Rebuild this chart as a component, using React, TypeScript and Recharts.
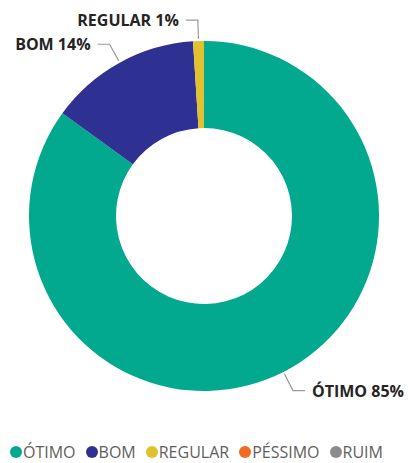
import React from 'react';
import { PieChart, Pie, Cell } from 'recharts';

const categories = ['ÓTIMO', 'BOM', 'REGULAR', 'PÉSSIMO', 'RUIM'];
const shares = [85, 14, 1, 0, 0];
const colors = ['#03A98E', '#2F3192', '#E2C12F', '#F26A21', '#8B8B8B'];

const data = categories.map((name, i) => ({ name, value: shares[i] }));

const RAD = Math.PI / 180;

const renderLabel = (props: any) => {
  const { cx, cy, midAngle, outerRadius, name, value } = props;
  if (!value) return null;
  const cos = Math.cos(-midAngle * RAD);
  const sin = Math.sin(-midAngle * RAD);
  const sx = cx + (outerRadius + 2) * cos;
  const sy = cy + (outerRadius + 2) * sin;
  const ex = cx + (outerRadius + 21) * cos;
  const ey = cy + (outerRadius + 21) * sin;
  const dir = cos >= 0 ? 1 : -1;
  const hx = ex + dir * 12;
  return (
    <g>
      <polyline
        points={`${sx},${sy} ${ex},${ey} ${hx},${ey}`}
        fill="none"
        stroke="#9A9A9A"
        strokeWidth={1.2}
      />
      <text
        x={hx + dir * 7}
        y={ey}
        textAnchor={dir > 0 ? 'start' : 'end'}
        dominantBaseline="central"
        fontFamily="'Open Sans', sans-serif"
        fontWeight={700}
        fontSize={16}
        fill="#252423"
      >
        {`${name} ${value}%`}
      </text>
    </g>
  );
};

const LegendRow = () => (
  <div
    style={{
      position: 'absolute',
      left: 10,
      top: 445,
      height: 14,
      display: 'flex',
      alignItems: 'center',
      fontFamily: "'Open Sans', sans-serif",
      fontSize: 16,
      lineHeight: '14px',
      color: '#605E5C',
      whiteSpace: 'nowrap',
    }}
  >
    {categories.map((c, i) => (
      <span key={c} style={{ display: 'flex', alignItems: 'center', marginRight: 10 }}>
        <span
          style={{
            width: 12,
            height: 12,
            borderRadius: 6,
            background: colors[i],
            display: 'inline-block',
            marginRight: 1,
          }}
        />
        {c}
      </span>
    ))}
  </div>
);

export default function App() {
  return (
    <div style={{ position: 'absolute', left: 0, top: 0, width: 411, height: 463, background: '#fff' }}>
      <PieChart width={411} height={440} margin={{ top: 0, right: 0, bottom: 0, left: 0 }}>
        <Pie
          data={data}
          dataKey="value"
          nameKey="name"
          cx={204}
          cy={216}
          innerRadius={88}
          outerRadius={175}
          startAngle={90}
          endAngle={-270}
          stroke="none"
          label={renderLabel}
          labelLine={false}
          isAnimationActive={false}
        >
          {data.map((d, i) => (
            <Cell key={d.name} fill={colors[i]} />
          ))}
        </Pie>
      </PieChart>
      <LegendRow />
    </div>
  );
}
